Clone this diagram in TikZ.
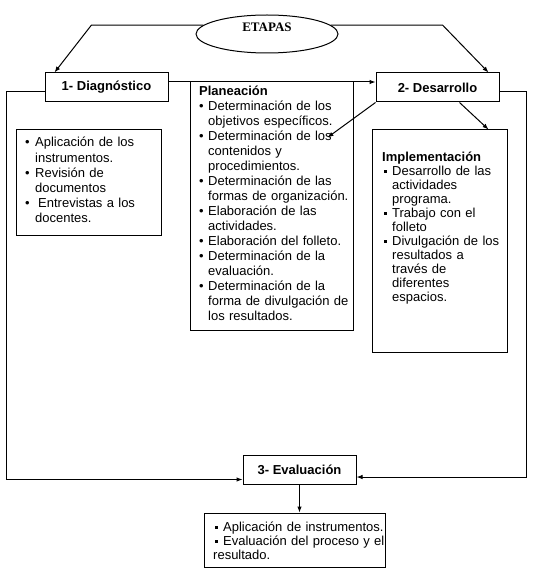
\documentclass[tikz,border=0pt]{standalone}
\usepackage{fontspec}
\setmainfont{Liberation Sans}
\newfontfamily\serifetapas{Liberation Serif}
\usetikzlibrary{shapes.geometric,arrows.meta}

\newcommand{\punto}[2][10pt]{\noindent\hangindent=#1\hangafter=1\makebox[#1][l]{\textbullet}#2\par}
\newcommand{\cuadro}[2][10pt]{\noindent\hangindent=#1\hangafter=1\makebox[10pt][l]{\hspace{2pt}\raisebox{2.5pt}{\rule{3pt}{3pt}}}#2\par}

\begin{document}
\begin{tikzpicture}[
		x=1pt, y=-1pt,
		caja/.style={draw, rectangle, line width=1pt, inner sep=0pt},
		titulo/.style={caja, font=\bfseries\fontsize{13}{15}\selectfont},
		lista/.style={inner sep=0pt, anchor=base west, text width=#1, align=left, font=\fontsize{13}{15}\selectfont},
		flecha/.style={-{Latex[length=6pt,width=4.5pt]}, line width=1pt}
	]
  \useasboundingbox (0,0) rectangle (532,572);
  \node (etapas) [ellipse, draw, line width=1pt, minimum width=142, minimum height=38, inner sep=0pt] at (267,34) {};
  \node (etapas_txt) [font=\serifetapas\bfseries\fontsize{13}{15}\selectfont] at (267,27) {ETAPAS};
  \node (diag) [titulo, minimum width=123, minimum height=29] at (106.5,87.5) {1- Diagn\'ostico};
  \node (desa) [titulo, minimum width=123, minimum height=29] at (437.5,87.5) {2- Desarrollo};
  \node (eval) [titulo, minimum width=113, minimum height=29] at (299.5,469.5) {3- Evaluaci\'on};
  % cajas de las listas
  \node (diag_caja) [caja, minimum width=145, minimum height=105] at (88.5,182.5) {};
  \node (plan) [caja, minimum width=163, minimum height=248] at (271.5,206) {};
  \node (impl) [caja, minimum width=135, minimum height=222] at (439.5,241) {};
  \node (eval_caja) [caja, minimum width=181, minimum height=54] at (294.5,540) {};
  \node (diag_lista) [lista=135pt] at (25,147) {%
    \punto{Aplicaci\'on de los\newline instrumentos.}
    \punto{Revisi\'on de\newline documentos}
    \punto{\hspace{3pt}Entrevistas a los\newline docentes.}};
  \node (plan_lista) [lista=160pt] at (199,95.5) {%
    \textbf{Planeaci\'on}\par
    \punto[9pt]{Determinaci\'on de los\newline objetivos espec\'ificos.}
    \punto[9pt]{Determinaci\'on de los\newline contenidos y\newline procedimientos.}
    \punto[9pt]{Determinaci\'on de las\newline formas de organizaci\'on.}
    \punto[9pt]{Elaboraci\'on de las\newline actividades.}
    \punto[9pt]{Elaboraci\'on del folleto.}
    \punto[9pt]{Determinaci\'on de la\newline evaluaci\'on.}
    \punto[9pt]{Determinaci\'on de la\newline forma de divulgaci\'on de\newline los resultados.}};
  \node (impl_lista) [lista=124pt, font=\fontsize{13}{14}\selectfont] at (382,161) {%
    \textbf{Implementaci\'on}\par
    \cuadro{Desarrollo de las\newline actividades\newline programa.}
    \cuadro{Trabajo con el\newline folleto}
    \cuadro{Divulgaci\'on de los\newline resultados a\newline trav\'es de\newline diferentes\newline espacios.}};
  \node (eval_lista) [lista=178pt, font=\fontsize{13}{14}\selectfont] at (213,531) {%
    \cuadro{Aplicaci\'on de instrumentos.}
    \cuadro[0pt]{Evaluaci\'on del proceso y el\newline resultado.}};
  % flechas
  \draw [flecha] (etapas.172) -- ++(-112,0) -- ([xshift=10]diag.north west);
  \draw [flecha] (etapas.8) -- ++(112,0) -- ([xshift=-11]desa.north east);
  \draw [flecha] ([yshift=5.5]diag.east) -- ([yshift=5.5]desa.west);
  \draw [flecha] (desa.south west) -- ([xshift=-26,yshift=-56]plan.north east);
  \draw [flecha] ([xshift=22]desa.south) -- ([xshift=-19]impl.north east);
  \draw [flecha] ([yshift=-4.5]diag.west) -- ++(-38,0) |- ([yshift=-10]eval.west);
  \draw [flecha] ([yshift=-4.5]desa.east) -- ++(27,0) |- ([yshift=-7.5]eval.east);
  \draw [flecha] (eval.south) -- (eval.south |- eval_caja.north);
\end{tikzpicture}
\end{document}
